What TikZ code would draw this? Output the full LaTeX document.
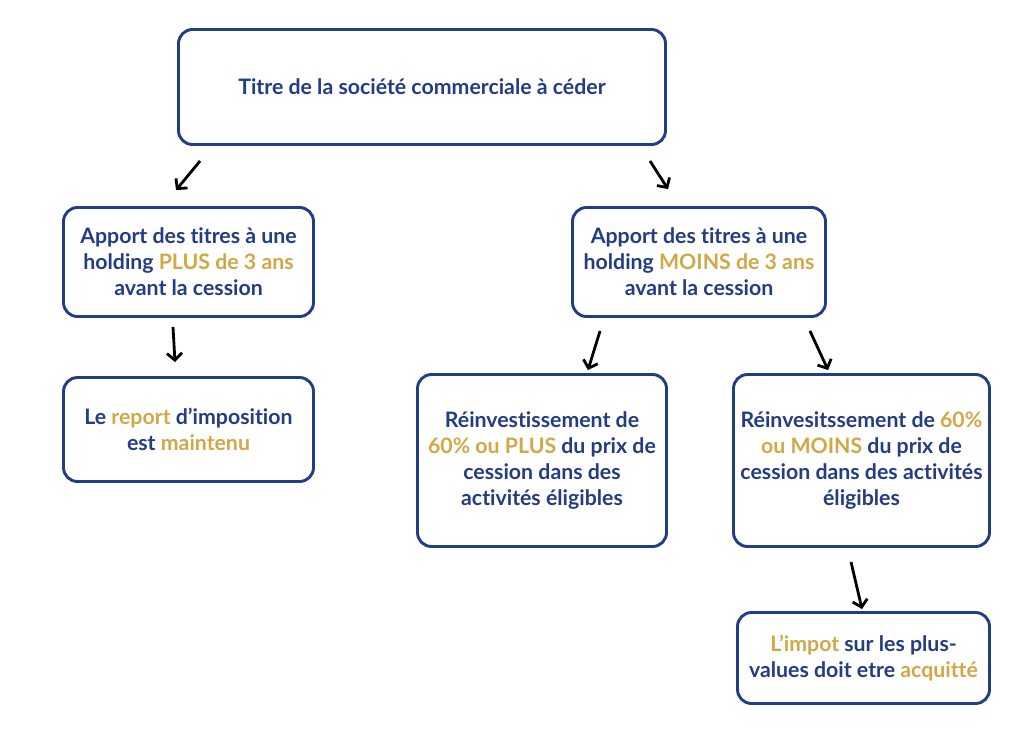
\documentclass[tikz,border=0pt]{standalone}
\usepackage{fontspec}
\setmainfont{Lato}[Ligatures=NoCommon]
\usepackage{tikz}
\usetikzlibrary{arrows.meta}
\usetikzlibrary{positioning}
\usepackage{xcolor}
\definecolor{navy}{HTML}{233C84}
\definecolor{gold}{HTML}{D2A847}
\newcommand{\hl}[1]{\textcolor{gold}{#1}}

\begin{document}
\begin{tikzpicture}[x=1pt, y=-1pt,
		box/.style={draw=navy, line width=2.9pt, rounded corners=14pt, fill=white, align=center, text=navy, inner sep=0pt, font=\fontsize{21.3}{26}\selectfont\bfseries},
		arr/.style={-{Straight Barb[length=7pt, width=15pt]}, line width=2.8pt, black}]
			\fill[white] (0,0) rectangle (1024,737);
			\useasboundingbox (0,0) rectangle (1024,737);

			\node[box, minimum width=487pt, minimum height=115pt] (titre) at (422,87) {Titre de la société commerciale à céder};

			\node[box, minimum width=250pt, minimum height=109pt] (plus) at (188.5,262) {Apport des titres à une\\ holding \hl{PLUS de 3 ans}\\ avant la cession};
			\node[box, minimum width=253pt, minimum height=109pt] (moins) at (699,262) {Apport des titres à une\\ holding \hl{MOINS de 3 ans}\\ avant la cession};

			\node[box, minimum width=250pt, minimum height=104pt] (report) at (188.5,429.5) {Le \hl{report} d’imposition\\ est \hl{maintenu}};
			\node[box, minimum width=249pt, minimum height=172pt] (reinvplus) at (542,460.5) {Réinvestissement de\\ \hl{60\% ou PLUS} du prix de\\ cession dans des\\ activités éligibles};
			\node[box, minimum width=256pt, minimum height=172pt] (reinvmoins) at (861.5,460.5) {Réinvesitssement de \hl{60\%}\\ \hl{ou MOINS} du prix de\\ cession dans des activités\\ éligibles};

			\node[box, minimum width=252pt, minimum height=91pt] (impot) at (863.5,658) {\hl{L’impot} sur les plus-\\ values doit etre \hl{acquitté}};

			% fleches
			\coordinate (a1) at ([shift={(23,15)}]titre.south west);
			\coordinate (b1) at ([shift={(114,-16)}]plus.north west);
			\coordinate (a2) at ([shift={(-17,15)}]titre.south east);
			\coordinate (b2) at ([shift={(97,-17)}]moins.north west);
			\coordinate (a3) at ([shift={(-15.5,9)}]plus.south);
			\coordinate (b3) at ([shift={(-13.5,-14)}]report.north);
			\coordinate (a4) at ([shift={(29,13)}]moins.south west);
			\coordinate (b4) at ([shift={(-80,-3)}]reinvplus.north east);
			\coordinate (a5) at ([shift={(-17,13)}]moins.south east);
			\coordinate (b5) at ([shift={(96,-3)}]reinvmoins.north west);
			\coordinate (a6) at ([shift={(-10.5,14)}]reinvmoins.south);
			\coordinate (b6) at ([shift={(-1.5,-2)}]impot.north);

			\foreach \i in {1,...,6}
				\draw[arr] (a\i) -- (b\i);
		\end{tikzpicture}
\end{document}
